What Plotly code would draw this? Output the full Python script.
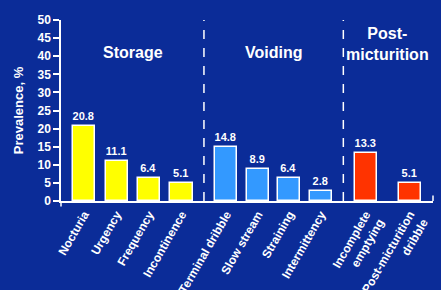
import plotly.graph_objects as go

groups = ["Storage", "Voiding", "Post-<br>micturition"]
group_cats = [
    ["Nocturia", "Urgency", "Frequency", "Incontinence"],
    ["Terminal dribble", "Slow stream", "Straining", "Intermittency"],
    ["Incomplete<br>emptying", "Post-micturition<br>dribble"],
]
group_vals = [
    [20.8, 11.1, 6.4, 5.1],
    [14.8, 8.9, 6.4, 2.8],
    [13.3, 5.1],
]
group_colors = ["#ffff00", "#3399ff", "#ff3300"]

# layout spacing (style)
within_step = [1.0, 0.97, 1.35]
group_gap = 1.38

BG = "#0b2c98"
FONT = "Liberation Sans, Arial, sans-serif"

fig = go.Figure()
tickvals, ticktext = [], []
group_bounds = []
last = None
for gi, (cats, vals) in enumerate(zip(group_cats, group_vals)):
    xs = []
    for ci, c in enumerate(cats):
        if last is None:
            p = 0.0
        elif ci == 0:
            p = last + group_gap
        else:
            p = last + within_step[gi]
        xs.append(p)
        last = p
    group_bounds.append((xs[0], xs[-1]))
    tickvals += xs
    ticktext += cats
    fig.add_trace(go.Bar(
        x=xs, y=vals, width=0.68,
        marker=dict(color=group_colors[gi], line=dict(color="white", width=1.5)),
        text=[f"{v:.1f}" for v in vals], textposition="outside",
        textfont=dict(color="white", size=11, family=FONT, weight="bold"),
        cliponaxis=False, showlegend=False, hoverinfo="skip",
    ))

# dashed separators and group titles
for gi in range(len(groups)):
    lo, hi = group_bounds[gi]
    if gi > 0:
        sep = (group_bounds[gi - 1][1] + lo) / 2
        fig.add_shape(type="line", x0=sep, x1=sep, y0=0, y1=51, xref="x", yref="y",
                      line=dict(color="white", width=1.5, dash="dash"))
    cx = (lo + hi) / 2
    fig.add_annotation(x=cx, y=41 if gi < 2 else 43.5, xref="x", yref="y",
                       text=groups[gi], showarrow=False, yanchor="middle",
                       font=dict(color="white", size=16, family=FONT, weight="bold"))

fig.add_shape(type="line", xref="paper", yref="paper", x0=0, x1=0, y0=0, y1=-0.03,
              line=dict(color="white", width=1.5))
fig.add_shape(type="line", xref="paper", yref="paper", x0=1, x1=1, y0=0, y1=0.03,
              line=dict(color="white", width=1.5))

fig.update_layout(
    width=441, height=290,
    margin=dict(l=61, r=8, t=20, b=89),
    paper_bgcolor=BG, plot_bgcolor=BG,
    font=dict(family=FONT, color="white"),
    bargap=0,
)
fig.update_xaxes(
    range=[-0.71, 10.74], tickvals=tickvals, ticktext=ticktext, tickangle=-60,
    tickfont=dict(size=12, family=FONT, color="white", weight="bold"),
    showline=True, linecolor="white", linewidth=1.5, ticks="", showgrid=False, zeroline=False,
    automargin=False,
)
fig.update_yaxes(
    range=[0, 50], dtick=5, ticks="outside", ticklen=6, tickcolor="white", tickwidth=1.5,
    showline=True, linecolor="white", linewidth=1.5, showgrid=False, zeroline=False,
    tickfont=dict(size=12, family=FONT, color="white", weight="bold"),
    title=dict(text="Prevalence, %", font=dict(size=13, family=FONT, color="white", weight="bold"),
               standoff=11),
    automargin=False,
)

fig.write_html("out.html", config={"displayModeBar": False},
               post_script="document.body.style.margin='0';document.body.style.background='%s';" % BG)
